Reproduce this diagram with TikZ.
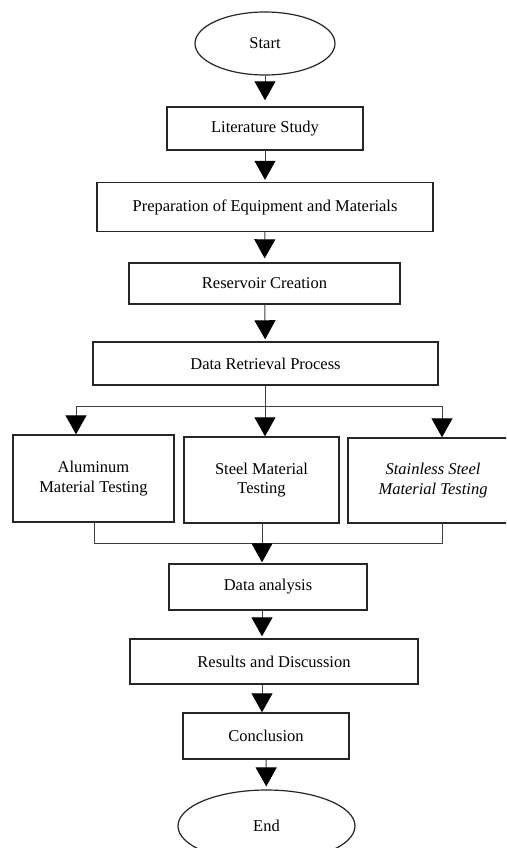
\documentclass[tikz,border=0pt]{standalone}
\usepackage{fontspec}
\setmainfont{Liberation Serif}
\usetikzlibrary{shapes.geometric,arrows.meta}
\tikzset{
  box/.style={draw=black!85, line width=1.4pt, rectangle, inner sep=0pt, align=center, font=\fontsize{16.5}{19.5}\selectfont},
  oval/.style={draw=black!85, line width=1.2pt, ellipse, inner sep=0pt, font=\fontsize{16.5}{19.5}\selectfont},
  conn/.style={draw=black!75, line width=1pt},
  arr/.style={conn, -{Triangle[width=21pt,length=19pt,color=black,fill=black]}, shorten >=2pt}
}
\begin{document}
\begin{tikzpicture}[x=1pt,y=-1pt]
\useasboundingbox (0,0) rectangle (506,848);
\clip (0,0) rectangle (506,848);
\fill[white] (0,0) rectangle (506,848);
\node[oval, minimum width=140pt, minimum height=63pt] (start) at (265,43.5) {Start};
\node[box, minimum width=196pt, minimum height=43pt] (lit) at (265,128.5) {Literature Study};
\node[box, minimum width=336pt, minimum height=49pt] (prep) at (265,207) {Preparation of Equipment and Materials};
\node[box, minimum width=271pt, minimum height=41pt] (res) at (264.5,283.5) {Reservoir Creation};
\node[box, minimum width=345pt, minimum height=43pt] (dr) at (265.5,363.5) {Data Retrieval Process};
\node[box, minimum width=161pt, minimum height=87pt] (alu) at (93.5,478.5) {Aluminum\\Material Testing};
\node[box, minimum width=155pt, minimum height=86pt] (steel) at (261.5,480) {Steel Material\\Testing};
\node[box, minimum width=170pt, minimum height=85pt] (ss) at (433,480.5) {\itshape Stainless Steel\\\itshape Material Testing};
\node[box, minimum width=198pt, minimum height=46pt] (da) at (268,587) {Data analysis};
\node[box, minimum width=288pt, minimum height=45pt] (rd) at (274,661.5) {Results and Discussion};
\node[box, minimum width=166pt, minimum height=46pt] (conc) at (266,736) {Conclusion};
\node[oval, minimum width=177pt, minimum height=72pt] (end) at (266.5,826) {End};
% main arrows
\draw[arr, shorten >=6pt] (start) -- (lit);
\draw[arr] (lit) -- (prep);
\draw[arr, shorten >=4pt] (prep) -- (res);
\draw[arr] (res) -- (dr);
% split
\coordinate (split) at (265,406);
\coordinate (sl) at (76,406);
\coordinate (sr) at (442,406);
\draw[conn] (dr.south -| split) -- (split);
\draw[conn] (sl) -- (sr);
\draw[arr, shorten >=0pt] (sl) -- (sl |- alu.north);
\draw[arr, shorten >=0pt] (split) -- (split |- steel.north);
\draw[arr, shorten >=0pt] (sr) -- (sr |- ss.north);
% join
\coordinate (join) at (262,543);
\coordinate (jl) at (94,543);
\coordinate (jr) at (442,543);
\draw[conn] (alu.south -| jl) -- (jl) -- (jr) -- (ss.south -| jr);
\draw[conn] (steel.south -| join) -- (join);
\draw[arr, shorten >=1pt] (join) -- (join |- da.north);
\draw[arr] (join |- da.south) -- (join |- rd.north);
\draw[arr, shorten >=0pt] (join |- rd.south) -- (join |- conc.north);
\draw[arr, shorten >=3pt] (conc) -- (end);
\end{tikzpicture}
\end{document}
